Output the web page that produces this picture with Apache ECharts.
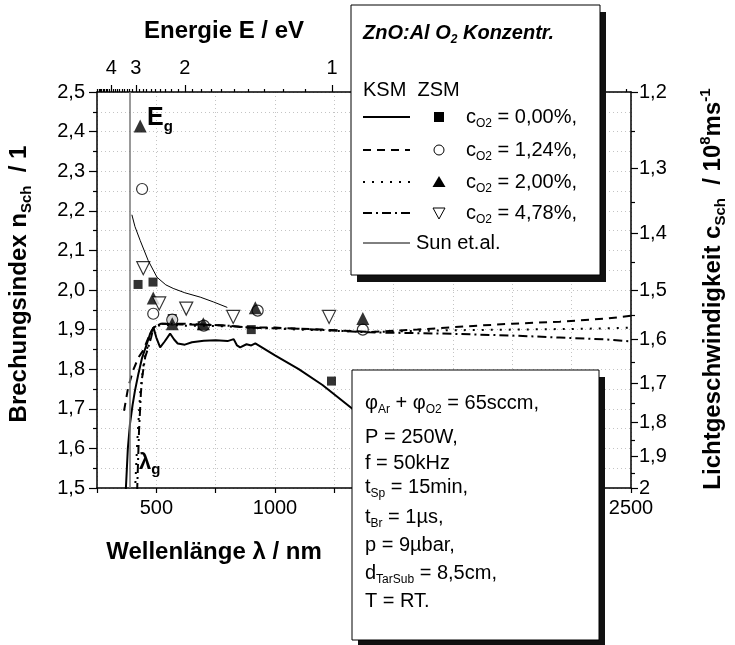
<!DOCTYPE html>
<html>
<head>
<meta charset="utf-8">
<title>Brechungsindex ZnO:Al</title>
<script src="https://cdn.jsdelivr.net/npm/echarts@6.0.0/dist/echarts.min.js"></script>
<style>
body{margin:0;background:#fff;}
#chart{width:735px;height:645px;}
</style>
</head>
<body>
<div id="chart"></div>
<script>
// Daten: [Wellenlaenge / nm, Brechungsindex n]
// KSM (Kurven)
var ksm000 = [[371,1.49],[380,1.60],[389,1.662],[400,1.71],[410,1.746],[425,1.79],[440,1.829],[458,1.86],[474,1.89],[488,1.905],[500,1.88],[516,1.855],[535,1.87],[558,1.89],[575,1.875],[590,1.865],[620,1.862],[650,1.868],[700,1.872],[750,1.873],[800,1.871],[826,1.876],[840,1.86],[853,1.855],[880,1.863],[900,1.86],[917,1.865],[1000,1.835],[1100,1.80],[1200,1.76],[1326,1.70],[1500,1.63],[1830,1.49]];
var ksm124 = [[364,1.695],[381,1.753],[402,1.797],[425,1.83],[444,1.847],[474,1.89],[488,1.905],[520,1.915],[600,1.913],[700,1.912],[800,1.91],[900,1.905],[1000,1.905],[1200,1.90],[1400,1.894],[1600,1.90],[1800,1.908],[2000,1.915],[2200,1.92],[2400,1.928],[2500,1.935]];
var ksm200 = [[410,1.49],[420,1.62],[432,1.74],[450,1.83],[470,1.87],[488,1.905],[520,1.912],[600,1.91],[700,1.91],[800,1.908],[900,1.905],[1100,1.90],[1400,1.894],[1700,1.898],[2000,1.90],[2300,1.902],[2500,1.905]];
var ksm478 = [[419,1.49],[427,1.644],[435,1.74],[440,1.778],[453,1.83],[466,1.855],[478,1.88],[488,1.905],[520,1.915],[600,1.915],[700,1.913],[800,1.91],[900,1.905],[1100,1.902],[1400,1.893],[1700,1.89],[2000,1.885],[2200,1.88],[2400,1.875],[2500,1.87]];
// ZSM (Punkte)
var zsm000 = [[423,2.014],[486,2.02],[567,1.928],[693,1.91],[900,1.90],[1238,1.77]];
var zsm124 = [[440,2.255],[487,1.94],[567,1.925],[700,1.91],[927,1.948],[1370,1.90]];
var zsm200 = [[432,2.414],[487,1.98],[567,1.915],[698,1.915],[917,1.955],[1370,1.928]];
var zsm478 = [[445,2.055],[512,1.966],[626,1.953],[824,1.932],[1228,1.932]];
// Sun et.al.
var sun = [[397,2.19],[410,2.16],[432,2.125],[466,2.074],[503,2.032],[540,2.013],[571,2.004],[620,1.993],[685,1.982],[740,1.97],[799,1.956]];
var lambdaG = 390;

// Achsen
var energyMajor = [4, 3, 2, 1];
var speedMajor = [1.2, 1.3, 1.4, 1.5, 1.6, 1.7, 1.8, 1.9, 2.0];
var speedMinor = [1.25, 1.35, 1.45, 1.55, 1.65, 1.75, 1.85, 1.95];
var hc = 1240;   // eV nm
var c0 = 3;      // 10^8 m/s

var FONT = 'Liberation Sans, Arial, sans-serif';

function toLambda(e){ return +(hc / e).toFixed(6); }
function toN(c){ return Math.min(2.5, Math.max(1.5, +(c0 / c).toFixed(9))); }

var energyMinor = [];
for (var i = 49; i >= 5; i--) {
	if (i % 10 != 0) energyMinor.push(toLambda(i / 10));
}

var rich = {
	n:  {fontSize: 20, lineHeight: 26, fontFamily: FONT, color: '#000'},
	s:  {fontSize: 12, lineHeight: 12, fontFamily: FONT, color: '#000', verticalAlign: 'bottom'},
	b:  {fontSize: 24, lineHeight: 30, fontFamily: FONT, fontWeight: 'bold', color: '#000'},
	bs: {fontSize: 15, lineHeight: 15, fontFamily: FONT, fontWeight: 'bold', color: '#000', verticalAlign: 'bottom'},
	bp: {fontSize: 15, lineHeight: 15, fontFamily: FONT, fontWeight: 'bold', color: '#000', verticalAlign: 'top'},
	bi: {fontSize: 20, lineHeight: 26, fontFamily: FONT, fontWeight: 'bold', fontStyle: 'italic', color: '#000'},
	bis:{fontSize: 12, lineHeight: 12, fontFamily: FONT, fontWeight: 'bold', fontStyle: 'italic', color: '#000', verticalAlign: 'bottom'},
	e:  {fontSize: 25, lineHeight: 32, fontFamily: FONT, fontWeight: 'bold', color: '#000'},
	es: {fontSize: 15, lineHeight: 15, fontFamily: FONT, fontWeight: 'bold', color: '#000', verticalAlign: 'bottom'},
	l:  {fontSize: 22, lineHeight: 28, fontFamily: FONT, fontWeight: 'bold', color: '#000'}
};

function txt(x, y, text, rot){
	return {type: 'text', x: x, y: y, rotation: rot || 0, z: 110, silent: true,
		style: {text: text, rich: rich, align: rot ? 'center' : 'left', verticalAlign: 'middle'}};
}
function box(x, y, w, h){
	return [
		{type: 'rect', z: 100, silent: true, shape: {x: x + 6, y: y + 7, width: w, height: h}, style: {fill: '#111'}},
		{type: 'rect', z: 101, silent: true, shape: {x: x, y: y, width: w, height: h}, style: {fill: '#fff', stroke: '#000', lineWidth: 1}}
	];
}
function legLine(y, dash, w){
	return {type: 'line', z: 110, silent: true, shape: {x1: 363, y1: y, x2: 410, y2: y},
		style: {stroke: '#000', lineWidth: w || 2, lineDash: dash}};
}

var rowY = [117, 150, 182, 213];
var graphics = [];
graphics = graphics.concat(box(351, 5, 249, 270));
graphics = graphics.concat(box(352, 370, 247, 270));
graphics.push(
	txt(363, 33, '{bi|ZnO:Al O}{bis|2}{bi| Konzentr.}'),
	txt(363, 90, '{n|KSM  ZSM}'),
	legLine(rowY[0], null), legLine(rowY[1], [8, 6]), legLine(rowY[2], [2, 7]), legLine(rowY[3], [9, 4, 2, 4]),
	{type: 'rect', z: 110, silent: true, shape: {x: 434, y: rowY[0] - 5, width: 10, height: 10}, style: {fill: '#000'}},
	{type: 'circle', z: 110, silent: true, shape: {cx: 439, cy: rowY[1], r: 5}, style: {fill: '#fff', stroke: '#000', lineWidth: 1}},
	{type: 'polygon', z: 110, silent: true, shape: {points: [[439, rowY[2] - 6], [445.5, rowY[2] + 5], [432.5, rowY[2] + 5]]}, style: {fill: '#000'}},
	{type: 'polygon', z: 110, silent: true, shape: {points: [[433, rowY[3] - 5], [445, rowY[3] - 5], [439, rowY[3] + 6]]}, style: {fill: '#fff', stroke: '#000', lineWidth: 1}},
	txt(466, rowY[0], '{n|c}{s|O2}{n| = 0,00%,}'),
	txt(466, rowY[1], '{n|c}{s|O2}{n| = 1,24%,}'),
	txt(466, rowY[2], '{n|c}{s|O2}{n| = 2,00%,}'),
	txt(466, rowY[3], '{n|c}{s|O2}{n| = 4,78%,}'),
	legLine(243, null, 1),
	txt(416, 243, '{n|Sun et.al.}'),
	// Prozessparameter
	txt(365, 403, '{n|φ}{s|Ar}{n| + φ}{s|O2}{n| = 65sccm,}'),
	txt(365, 437, '{n|P = 250W,}'),
	txt(365, 463, '{n|f = 50kHz}'),
	txt(365, 487, '{n|t}{s|Sp}{n| = 15min,}'),
	txt(365, 517, '{n|t}{s|Br}{n| = 1µs,}'),
	txt(365, 545, '{n|p = 9µbar,}'),
	txt(365, 573, '{n|d}{s|TarSub}{n| = 8,5cm,}'),
	txt(365, 601, '{n|T = RT.}'),
	// Achsentitel
	{type: 'text', x: 224, y: 31, z: 50, silent: true, style: {text: '{b|Energie E / eV}', rich: rich, align: 'center', verticalAlign: 'middle'}},
	{type: 'text', x: 214, y: 552, z: 50, silent: true, style: {text: '{b|Wellenlänge λ / nm}', rich: rich, align: 'center', verticalAlign: 'middle'}},
	txt(19, 284, '{b|Brechungsindex n}{bs|Sch}{b|  / 1}', Math.PI / 2),
	txt(713, 289, '{b|Lichtgeschwindigkeit c}{bs|Sch}{b|  / 10}{bp|8}{b|ms}{bp|-1}', Math.PI / 2),
	// Eg, lambda g
	{type: 'text', x: 147, y: 118, z: 50, silent: true, style: {text: '{e|E}{es|g}', rich: rich, align: 'left', verticalAlign: 'middle'}},
	{type: 'text', x: 139, y: 463, z: 50, silent: true, style: {text: '{l|λ}{bs|g}', rich: rich, align: 'left', verticalAlign: 'middle'}}
);

var gridLine = {show: true, lineStyle: {color: '#c4c4c4', width: 1, type: [1, 3]}};
var axisBlack = {show: true, lineStyle: {color: '#000', width: 1.5}};
var tickBlack = {color: '#000', width: 1.2};

var option = {
	animation: false,
	backgroundColor: '#fff',
	grid: {left: 97, right: 104, top: 92, bottom: 157},
	graphic: graphics,
	xAxis: [
		{type: 'value', min: 250, max: 2500, interval: 250, position: 'bottom',
			axisLine: axisBlack, axisTick: {length: 5, lineStyle: tickBlack},
			axisLabel: {fontSize: 20, fontFamily: FONT, color: '#000', margin: 10, showMaxLabel: true,
				formatter: function(v){ return v % 500 == 0 ? String(v) : ''; }},
			splitLine: gridLine},
		{type: 'value', min: 250, max: 2500, position: 'top',
			axisLine: axisBlack,
			axisTick: {length: 7, lineStyle: tickBlack, customValues: energyMajor.map(toLambda)},
			axisLabel: {fontSize: 20, fontFamily: FONT, color: '#000', margin: 14,
				customValues: energyMajor.map(toLambda),
				formatter: function(v){ return String(Math.round(hc / v)); }},
			splitLine: {show: false}},
		{type: 'value', min: 250, max: 2500, position: 'top',
			axisLine: {show: false},
			axisTick: {length: 3, lineStyle: tickBlack, customValues: energyMinor},
			axisLabel: {show: false}, splitLine: {show: false}}
	],
	yAxis: [
		{type: 'value', min: 1.5, max: 2.5, interval: 0.1, position: 'left',
			axisLine: axisBlack, axisTick: {length: 8, lineStyle: tickBlack},
			minorTick: {show: true, splitNumber: 2, length: 4, lineStyle: tickBlack},
			axisLabel: {fontSize: 20, fontFamily: FONT, color: '#000', margin: 12,
				formatter: function(v){ return v.toFixed(1).replace('.', ','); }},
			splitLine: gridLine, minorSplitLine: gridLine},
		{type: 'value', min: 1.5, max: 2.5, position: 'right',
			axisLine: axisBlack,
			axisTick: {length: 7, lineStyle: tickBlack, customValues: speedMajor.map(toN)},
			axisLabel: {fontSize: 20, fontFamily: FONT, color: '#000', margin: 8,
				customValues: speedMajor.map(toN),
				formatter: function(v){
					var c = Math.round(c0 / v * 10) / 10;
					return c % 1 == 0 ? String(c) : c.toFixed(1).replace('.', ',');
				}},
			splitLine: {show: false}},
		{type: 'value', min: 1.5, max: 2.5, position: 'right',
			axisLine: {show: false},
			axisTick: {length: 4, lineStyle: tickBlack, customValues: speedMinor.map(toN)},
			axisLabel: {show: false}, splitLine: {show: false}}
	],
	series: [
		{type: 'line', name: 'KSM 0,00%', data: ksm000, showSymbol: false, symbol: 'none',
			lineStyle: {color: '#000', width: 2},
			markLine: {silent: true, symbol: ['none', 'none'], label: {show: false},
				lineStyle: {color: '#777', width: 1.5, type: 'solid'}, data: [{xAxis: lambdaG}]}},
		{type: 'line', name: 'KSM 1,24%', data: ksm124, showSymbol: false, symbol: 'none',
			lineStyle: {color: '#000', width: 2, type: [8, 6]}},
		{type: 'line', name: 'KSM 2,00%', data: ksm200, showSymbol: false, symbol: 'none',
			lineStyle: {color: '#000', width: 2, type: [2, 7]}},
		{type: 'line', name: 'KSM 4,78%', data: ksm478, showSymbol: false, symbol: 'none',
			lineStyle: {color: '#000', width: 2, type: [9, 4, 2, 4]}},
		{type: 'line', name: 'Sun et.al.', data: sun, showSymbol: false, symbol: 'none',
			lineStyle: {color: '#000', width: 1}},
		{type: 'scatter', name: 'ZSM 0,00%', data: zsm000, symbol: 'rect', symbolSize: 9,
			itemStyle: {color: '#000'}},
		{type: 'scatter', name: 'ZSM 1,24%', data: zsm124, symbol: 'circle', symbolSize: 11,
			itemStyle: {color: '#fff', borderColor: '#000', borderWidth: 1.2}},
		{type: 'scatter', name: 'ZSM 2,00%', data: zsm200, symbol: 'triangle', symbolSize: 13,
			itemStyle: {color: '#000'}},
		{type: 'scatter', name: 'ZSM 4,78%', data: zsm478, symbol: 'triangle', symbolSize: 13, symbolRotate: 180,
			itemStyle: {color: '#fff', borderColor: '#000', borderWidth: 1.2}}
	]
};

var chart = echarts.init(document.getElementById('chart'));
chart.setOption(option);
</script>
</body>
</html>
